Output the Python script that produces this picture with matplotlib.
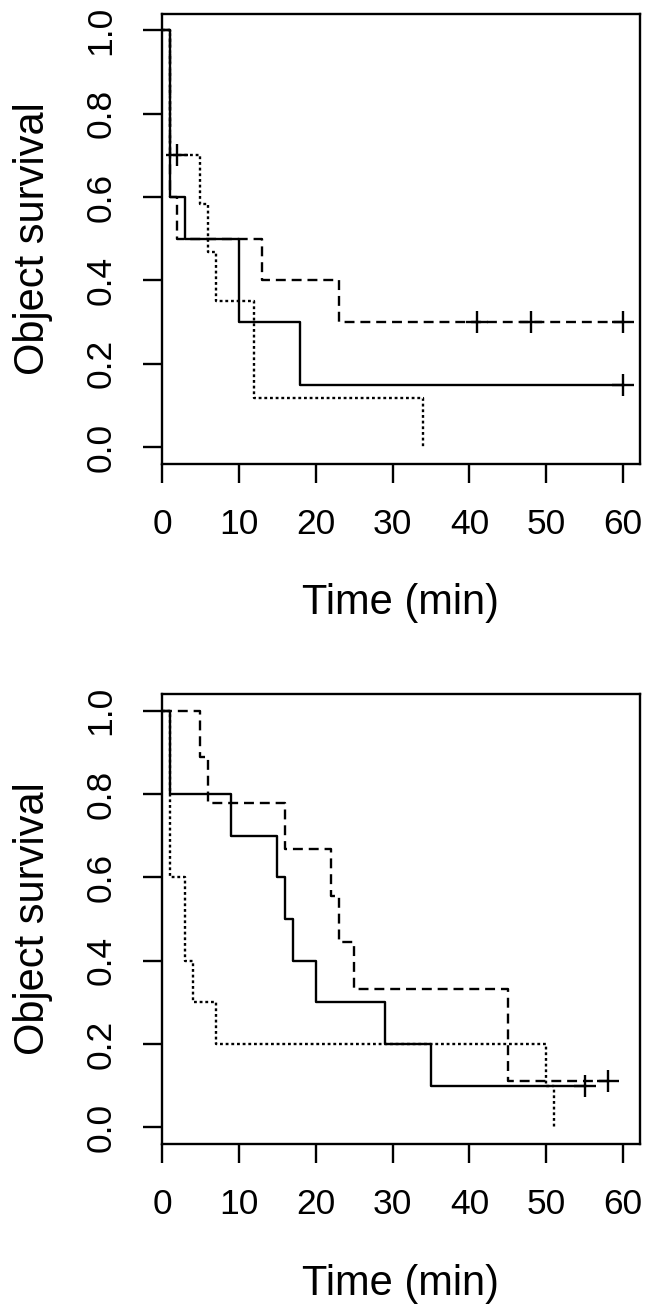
import matplotlib
matplotlib.use("Agg")
import matplotlib.pyplot as plt
from matplotlib.path import Path

plt.rcParams['font.family'] = ['Liberation Sans', 'DejaVu Sans']

################################################################################
# Kaplan-Meier step values
################################################################################

# upper panel
top_solid_t = [0, 1, 3, 10, 18, 60]
top_solid_s = [1.0, 0.6, 0.5, 0.3, 0.15, 0.15]
top_solid_cens = [60]

top_dash_t = [0, 1, 2, 13, 23, 60]
top_dash_s = [1.0, 0.6, 0.5, 0.4, 0.3, 0.3]
top_dash_cens = [41, 48, 60]

top_dot_t = [0, 1, 5, 6, 7, 12, 34]
top_dot_s = [1.0, 0.7, 0.583, 0.467, 0.35, 0.117, 0.0]
top_dot_cens = [2]

# lower panel
bot_solid_t = [0, 1, 9, 15, 16, 17, 20, 29, 35, 55]
bot_solid_s = [1.0, 0.8, 0.7, 0.6, 0.5, 0.4, 0.3, 0.2, 0.1, 0.1]
bot_solid_cens = [55]

bot_dash_t = [0, 5, 6, 16, 22, 23, 25, 45, 58]
bot_dash_s = [1.0, 0.889, 0.778, 0.667, 0.556, 0.444, 0.333, 0.111, 0.111]
bot_dash_cens = [58]

bot_dot_t = [0, 1, 3, 4, 7, 50, 51]
bot_dot_s = [1.0, 0.6, 0.4, 0.3, 0.2, 0.1, 0.0]
bot_dot_cens = []

x_ticks = [0, 10, 20, 30, 40, 50, 60]
y_ticks = [0.0, 0.2, 0.4, 0.6, 0.8, 1.0]
y_ticklabels = ["0.0", "0.2", "0.4", "0.6", "0.8", "1.0"]

LW = 1.7
plus = Path([(-1, 0), (1, 0), (0, -1), (0, 1)],
            [Path.MOVETO, Path.LINETO, Path.MOVETO, Path.LINETO])
styles = {'solid': '-', 'dash': (0, (4.2, 2.5)), 'dot': (0, (1.2, 1.2))}


def value_at(t_steps, s_steps, t):
    # survival value of a step curve at time t
    v = s_steps[0]
    for tt, ss in zip(t_steps, s_steps):
        if tt <= t:
            v = ss
    return v


def km_panel(ax, curves):
    for t, s, cens, key in curves:
        ax.step(t, s, where='post', color='black', lw=LW, linestyle=styles[key])
        if cens:
            ax.plot(cens, [value_at(t, s, c) for c in cens], linestyle='none',
                    marker=plus, markersize=16, markeredgewidth=LW,
                    markeredgecolor='black', markerfacecolor='none')
    ax.set_xlim(0, 62.2)
    ax.set_ylim(-0.04, 1.04)
    ax.set_xticks(x_ticks)
    ax.set_yticks(y_ticks)
    ax.set_yticklabels(y_ticklabels, rotation=90, va='center')
    ax.tick_params(length=14, width=LW, labelsize=25.5, pad=18, color='black')
    for sp in ax.spines.values():
        sp.set_linewidth(LW)
    ax.set_xlabel("Time (min)", fontsize=30, va='center')
    ax.xaxis.set_label_coords(0.5, -0.31)
    ax.set_ylabel("Object survival", fontsize=30, va='center')
    ax.yaxis.set_label_coords(-0.27, 0.5)


fig = plt.figure(figsize=(6.51, 13.07), dpi=100)
ax1 = fig.add_axes([0.2488, 0.6452, 0.7343, 0.3443])
ax2 = fig.add_axes([0.2488, 0.1247, 0.7343, 0.3443])

km_panel(ax1, [(top_solid_t, top_solid_s, top_solid_cens, 'solid'),
               (top_dash_t, top_dash_s, top_dash_cens, 'dash'),
               (top_dot_t, top_dot_s, top_dot_cens, 'dot')])
km_panel(ax2, [(bot_solid_t, bot_solid_s, bot_solid_cens, 'solid'),
               (bot_dash_t, bot_dash_s, bot_dash_cens, 'dash'),
               (bot_dot_t, bot_dot_s, bot_dot_cens, 'dot')])

fig.savefig("out.png", dpi=100)
